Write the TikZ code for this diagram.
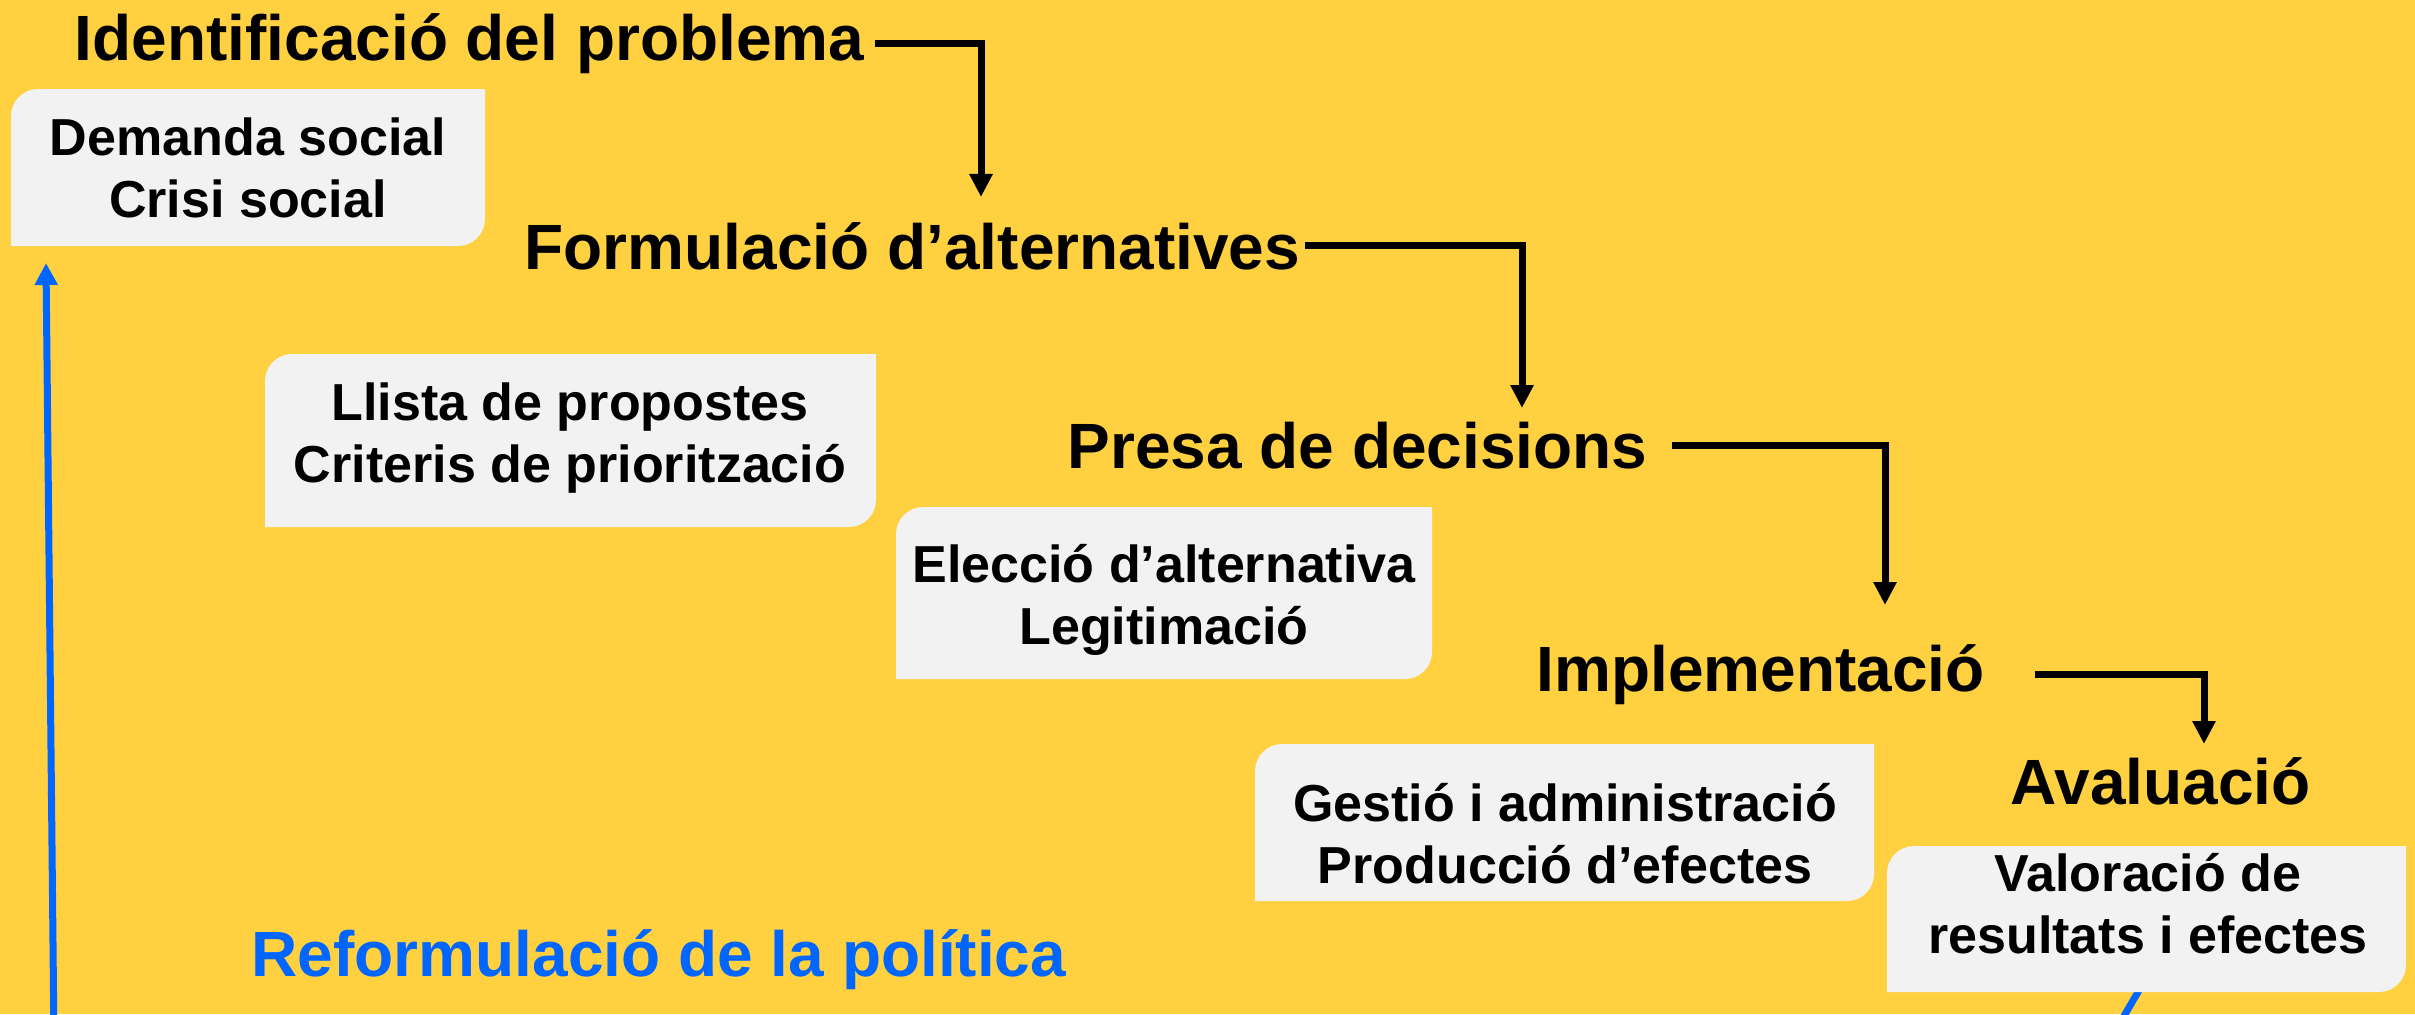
\documentclass[tikz,border=0pt]{standalone}
\usepackage{fontspec}
\setmainfont{Liberation Sans}
\usetikzlibrary{arrows.meta}
\definecolor{bgyellow}{RGB}{255,209,64}
\definecolor{boxgray}{RGB}{242,242,242}
\definecolor{reblue}{RGB}{0,102,255}
\newcommand{\roundbox}[4]{%
  \fill[boxgray] (#1,{(#2+#4)/2}) [rounded corners=0.27cm] -- (#1,#2) -- ({(#1+#3)/2},#2) [sharp corners] -- (#3,#2) -- (#3,{(#2+#4)/2}) [rounded corners=0.27cm] -- (#3,#4) -- ({(#1+#3)/2},#4) [sharp corners] -- (#1,#4) -- cycle;}
\begin{document}
\begin{tikzpicture}[x=0.01cm,y=-0.01cm,
  heading/.style={font=\fontsize{18.2}{21}\selectfont\bfseries, inner sep=0, anchor=base west},
  boxtext/.style={font=\fontsize{14.8}{17.6}\selectfont\bfseries, align=center, inner sep=0},
  flow/.style={draw=black, line width=0.07cm, -{Triangle[length=0.23cm,width=0.22cm]}},
  backline/.style={draw=reblue, line width=0.07cm},
  backarrow/.style={backline, -{Triangle[length=0.22cm,width=0.22cm]}}]
\useasboundingbox (0,0) rectangle (2415,1014);
\clip (0,0) rectangle (2415,1014);
\fill[bgyellow] (0,0) rectangle (2415,1014);

% blue feedback lines
\coordinate (fbstart) at (54,1040);
\coordinate (fbtip) at (46,263);
\draw[backarrow] (fbstart) -- (fbtip);
\coordinate (evout) at (2145,980);
\coordinate (evend) at (2110,1040);
\draw[backline] (evout) -- (evend);

% boxes
\roundbox{11}{89}{485}{246}
\roundbox{265}{354}{876}{527}
\roundbox{896}{507}{1432}{679}
\roundbox{1255}{744}{1874}{901}
\roundbox{1887}{846}{2406}{992}

\node[boxtext] (b1) at (248,168) {Demanda social\\Crisi social};
\node[boxtext] (b2) at (570,438) {Llista de propostes\\Criteris de priorització};
\node[boxtext] (b3) at (1164,600) {Elecció d’alternativa\\Legitimació};
\node[boxtext] (b4) at (1565,834) {Gestió i administració\\Producció d’efectes};
\node[boxtext] (b5) at (2148,904) {Valoració de\\resultats i efectes};

% headings
\node[heading] (ident) at (74,60) {Identificació del problema};
\node[heading] (formul) at (524,269) {Formulació d’alternatives};
\node[heading] (presa) at (1067,468) {Presa de decisions};
\node[heading] (impl) at (1536,691) {Implementació};
\node[heading] (aval) at (2010,804) {Avaluació};
\node[heading, text=reblue] (reform) at (251,976) {Reformulació de la política};

% flow arrows
\coordinate (t1) at (981,197);
\coordinate (t2) at (1522,408);
\coordinate (t3) at (1885,605);
\coordinate (t4) at (2204,744);
\draw[flow] ([xshift=0.1cm]ident.east) -| (t1);
\draw[flow] ([xshift=0.04cm]formul.east) -| (t2);
\draw[flow] ([xshift=0.24cm]presa.east) -| (t3);
\draw[flow] ([xshift=0.49cm]impl.east) -| (t4);
\end{tikzpicture}
\end{document}
